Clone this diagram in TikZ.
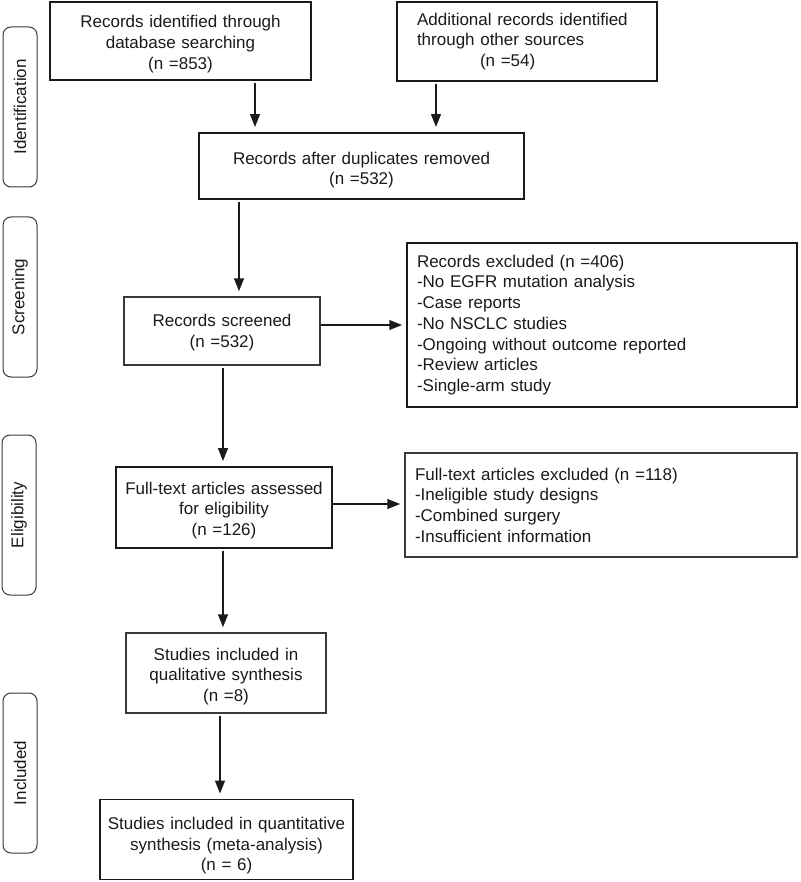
\documentclass[tikz,border=0pt]{standalone}
\usepackage{fontspec}
\setmainfont{Liberation Sans}
\usetikzlibrary{arrows.meta}
\definecolor{ink}{HTML}{1A1A1A}
\definecolor{inkthin}{HTML}{3A3A3A}
\newcommand\dfont{\fontsize{17}{20.7}\selectfont}
\begin{document}
\begin{tikzpicture}[x=1pt,y=-1pt,
  box/.style={draw=ink, line width=1.7pt, rectangle, inner sep=0pt, align=center, font=\dfont, text=ink},
  thinbox/.style={box, draw=inkthin, line width=1.1pt},
  tdown/.style={execute at begin node={\rule{0pt}{#1}}},
  phase/.style={draw=inkthin, line width=1pt, rounded corners=8pt, rotate=90,
     minimum width=160pt, minimum height=34pt, inner sep=0pt, font=\dfont, text=ink},
  arr/.style={draw=ink, line width=2.3pt, -{Triangle[length=13pt,width=9.5pt]}, shorten >=5pt, shorten <=2pt}]
\useasboundingbox (0,0) rectangle (800,882);

% phase labels
\node[phase] (pI) at (20,107) {Identification};
\node[phase] (pS) at (20,297) {Screening};
\node[phase] (pE) at (19,515) {Eligibility};
\node[phase] (pN) at (20,773) {Included};

% boxes
\node[box, minimum width=261pt, minimum height=78pt, text width=250pt, tdown=18.5pt] (B1) at (180.5,41)
  {Records identified through\\database searching\\(n =853)};
\node[box, minimum width=260pt, minimum height=79pt, align=left, text width=220pt] (B2) at (527,41.5)
  {Additional records identified\\through other sources\\\hspace*{63pt}(n =54)};
\node[box, minimum width=325pt, minimum height=66pt, text width=310pt, tdown=20.5pt] (B3) at (361.5,166)
  {Records after duplicates removed\\(n =532)};
\node[thinbox, minimum width=196pt, minimum height=68pt, text width=185pt, tdown=15.5pt] (B4) at (222,331)
  {Records screened\\(n =532)};
\node[box, line width=1.4pt, minimum width=390pt, minimum height=164pt, align=left, text width=370pt] (B5) at (602,325)
  {Records excluded (n =406)\\-No EGFR mutation analysis\\-Case reports\\-No NSCLC studies\\-Ongoing without outcome reported\\-Review articles\\-Single-arm study};
\node[box, minimum width=216pt, minimum height=81pt, text width=210pt, tdown=18.5pt] (B6) at (224,507.5)
  {Full-text articles assessed\\for eligibility\\(n =126)};
\node[thinbox, minimum width=392pt, minimum height=104pt, align=left, text width=372pt] (B7) at (601,505)
  {Full-text articles excluded (n =118)\\-Ineligible study designs\\-Combined surgery\\-Insufficient information};
\node[thinbox, minimum width=200pt, minimum height=80pt, text width=190pt, tdown=19.5pt] (B8) at (226,673)
  {Studies included in\\qualitative synthesis\\(n =8)};
\node[box, minimum width=253pt, minimum height=80pt, text width=250pt, tdown=24.5pt] (B9) at (226.5,839.5)
  {Studies included in quantitative\\synthesis (meta-analysis)\\(n = 6)};

% connectors
\draw[arr] ([xshift=74.5pt]B1.south) -- ([xshift=74.5pt]B1.south |- B3.north);
\draw[arr] ([xshift=-91pt]B2.south) -- ([xshift=-91pt]B2.south |- B3.north);
\draw[arr] ([xshift=-122.5pt]B3.south) -- ([xshift=-122.5pt]B3.south |- B4.north);
\draw[arr, shorten <=0pt, shorten >=4pt] ([yshift=6pt]B4.east) -- ([yshift=6pt]B4.east -| B5.west);
\draw[arr] ([xshift=1pt]B4.south) -- ([xshift=1pt]B4.south |- B6.north);
\draw[arr, shorten <=0pt, shorten >=4pt] ([yshift=3.5pt]B6.east) -- ([yshift=3.5pt]B6.east -| B7.west);
\draw[arr] ([xshift=-1pt]B6.south) -- ([xshift=-1pt]B6.south |- B8.north);
\draw[arr] ([xshift=-6pt]B8.south) -- ([xshift=-6pt]B8.south |- B9.north);
\end{tikzpicture}
\end{document}
